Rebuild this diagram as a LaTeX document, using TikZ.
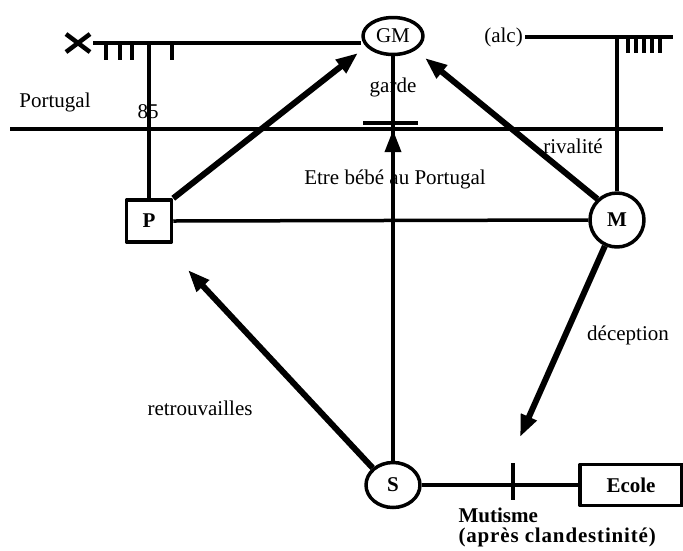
\documentclass[tikz,border=0pt]{standalone}
\usepackage{fontspec}
\setmainfont{Liberation Serif}
\usetikzlibrary{arrows.meta,shapes.geometric}
\tikzset{
  fil/.style={line width=3.5pt},
  fleche/.style={line width=6pt,-{Triangle[length=22pt,width=16pt]}},
  rond/.style={ellipse,draw,line width=3.5pt,inner sep=0pt,fill=white},
  boite/.style={rectangle,draw,line width=3.5pt,inner sep=0pt,fill=white},
  trait/.style={line width=4.5pt},
  gras/.style={font=\fontsize{21}{25}\selectfont\bfseries}
}
\begin{document}
\begin{tikzpicture}[x=1pt, y=-1pt, font=\fontsize{21}{25}\selectfont, line join=round]
\useasboundingbox (0,0) rectangle (683,550);
% les personnes
\node[rond, minimum width=60, minimum height=37] (GM) at (393,36) {GM};
\node[boite, minimum width=45, minimum height=42] (P) at (149,221) {\bfseries P};
\node[rond, minimum width=54, minimum height=54] (M) at (617,220) {\bfseries M};
\node[rond, minimum width=54, minimum height=45] (S) at (393,485) {\bfseries S};
\node[boite, minimum width=102, minimum height=41] (E) at (631,485) {\bfseries Ecole};
% textes
\node (portugal) at (55,102) {Portugal};
\node (an) at (148,112) {85};
\node (garde) at (393,87) {garde};
\node (bebe) at (395,179) {Etre bébé au Portugal};
\node[anchor=east, inner sep=2pt] (alc) at (525,37) {(alc)};
\node (rival) at (573,146) {rivalité};
\node (decep) at (628,335) {déception};
\node (retrouv) at (200,408) {retrouvailles};
\node[anchor=west, gras] (mutisme) at (455,515) {Mutisme};
\node[anchor=west, gras] (clandest) at (455,537) {\addfontfeature{LetterSpace=4}(après clandestinité)};
% lignes du haut
\coordinate (x0) at (93,43);
\draw[trait] (66,34)--(90,52) (66,52)--(90,34);
\draw[fil] (x0) -- (GM.west |- x0);
\foreach \t in {106,120,132,172} \draw[trait] (\t,43)--(\t,60);
\draw[fil] (P.north |- x0) -- (P.north);
\draw[fil] (alc.east) -- (673,37);
\draw[fil] (M.north |- alc.east) -- (M.north);
\foreach \t in {628,636,644,652,660} \draw[trait] (\t,37)--(\t,53);
% frontiere
\draw[fil] (10,129) -- (663,129);
\draw[trait] (363,123) -- (418,123);
% liens
\draw[fil] (P.east) -- (M.west);
\draw[fil] (GM.south) -- (S.north);
\draw[fil,-{Triangle[length=22pt,width=16pt]}] (S.north) -- (393,130);
\draw[fil] (S.east) -- (E.west);
\draw[trait] (513,463) -- (513,500);
% fleches
\draw[fleche] (P.north east) -- (358,53);
\draw[fleche] (M.133) -- (425,58);
\draw[fleche] (S.140) -- (188,270);
\draw[fleche] (M.-115) -- (520,437);
\end{tikzpicture}
\end{document}
